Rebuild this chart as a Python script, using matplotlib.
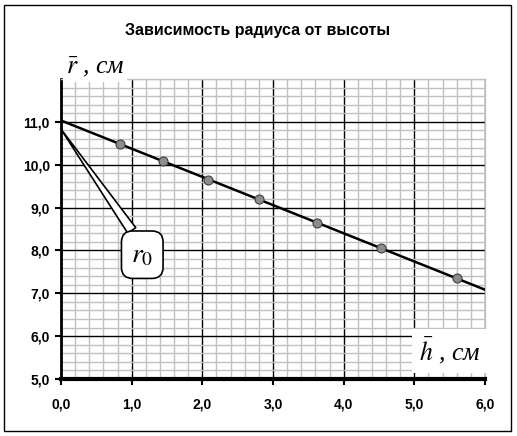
import numpy as np
import matplotlib.pyplot as plt
from matplotlib.ticker import MultipleLocator, FuncFormatter
from matplotlib.patches import Rectangle

plt.rcParams['mathtext.fontset'] = 'stix'

# данные (h, см ; r, см)
h_vals = [0.83, 1.44, 2.08, 2.80, 3.62, 4.53, 5.60]
r_vals = [10.49, 10.09, 9.65, 9.19, 8.65, 8.05, 7.35]
x_ticks = [0, 1, 2, 3, 4, 5, 6]
y_ticks = [5, 6, 7, 8, 9, 10, 11]

W, H = 517, 436
fig = plt.figure(figsize=(W / 100, H / 100), dpi=100)
ax = fig.add_axes([61 / W, 1 - 379 / H, (485 - 61) / W, (379 - 79) / H])

# линейный тренд
k, b = np.polyfit(h_vals, r_vals, 1)
x_line = np.array([0, 6])
ax.plot(x_line, k * x_line + b, color='black', lw=1.8, zorder=3)
ax.plot(h_vals, r_vals, 'o', ms=6.5, mfc='#8c8c8c', mec='#404040', mew=0.8, zorder=4)

ax.set_xlim(0, 6)
ax.set_ylim(5, 12)
ax.set_xticks(x_ticks)
ax.set_yticks(y_ticks)
ax.xaxis.set_minor_locator(MultipleLocator(0.2))
ax.yaxis.set_minor_locator(MultipleLocator(0.2))
fmt = FuncFormatter(lambda v, p: f"{v:.1f}".replace('.', ','))
ax.xaxis.set_major_formatter(fmt)
ax.yaxis.set_major_formatter(fmt)

ax.grid(which='minor', color='#c0c0c0', lw=1)
ax.grid(which='major', color='black', lw=1)
ax.set_axisbelow(True)

ax.tick_params(which='major', direction='out', length=4, width=1.5, labelsize=10)
ax.tick_params(axis='x', pad=9)
ax.tick_params(axis='y', pad=4)
ax.tick_params(which='minor', length=0)
for lab in ax.get_xticklabels() + ax.get_yticklabels():
    lab.set_fontweight('bold')
    lab.set_fontfamily('Liberation Sans')

ax.spines['left'].set_linewidth(2)
ax.spines['bottom'].set_linewidth(3)
for s in ['top', 'right']:
    ax.spines[s].set_color('#c0c0c0')
    ax.spines[s].set_linewidth(1)

# подписи осей
ax.text(0.07, 12.0, r'$\bar{r}$ , см', family='Liberation Serif', style='italic',
        fontsize=18.5, ha='left', va='bottom', zorder=5,
        bbox=dict(fc='white', ec='none', pad=2))
ax.text(5.93, 5.65, r'$\bar{h}$ , см', family='Liberation Serif', style='italic',
        fontsize=18.5, ha='right', va='center', zorder=5,
        bbox=dict(fc='white', ec='none', pad=5))

# выноска r0
ax.annotate(r'$r_0$', xy=(0.0, 10.83), xytext=(1.15, 7.9), textcoords='data',
            fontsize=20, ha='center', va='center', zorder=6,
            bbox=dict(boxstyle='round,pad=0.35,rounding_size=0.4', fc='white',
                      ec='black', lw=1.2),
            arrowprops=dict(arrowstyle='wedge,tail_width=0.35', fc='white',
                            ec='black', lw=1.2, relpos=(0.35, 1.0),
                            shrinkA=0, shrinkB=0))

fig.text(258 / W, 1 - 31 / H, 'Зависимость радиуса от высоты', ha='center',
         va='center', fontsize=11.5, fontweight='bold', family='Liberation Sans')

fig.patches.append(Rectangle((4 / W, 5 / H), 507 / W, 426 / H, transform=fig.transFigure,
                             fill=False, ec='black', lw=1))

fig.savefig('out.png', dpi=100)
